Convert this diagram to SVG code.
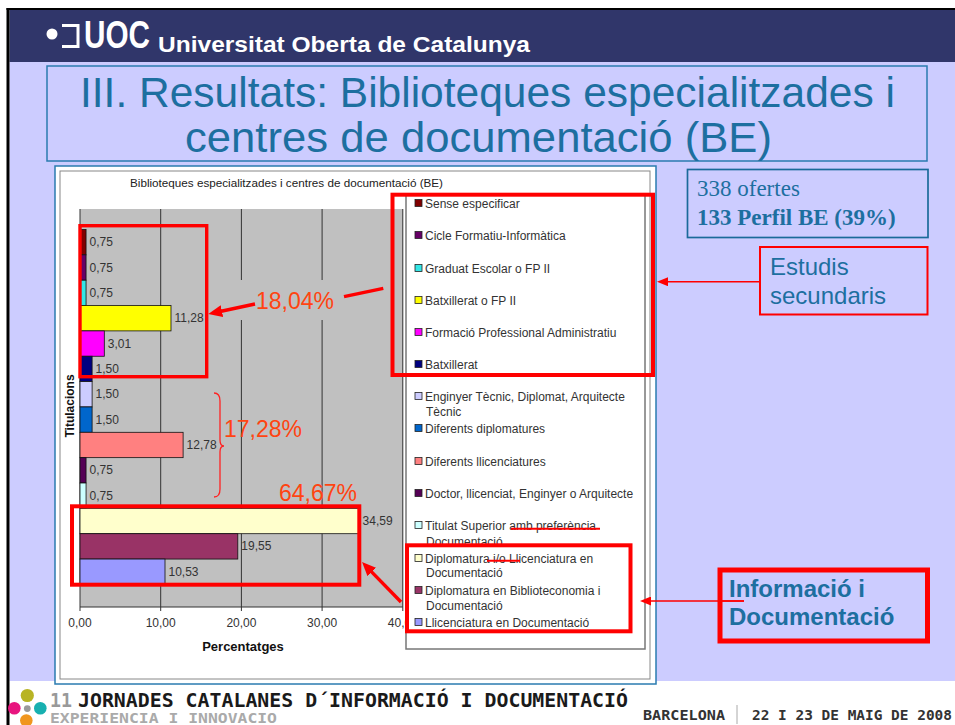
<svg xmlns="http://www.w3.org/2000/svg" width="955" height="725" viewBox="0 0 955 725">
<style>
.sans{font-family:"Liberation Sans",Arial,sans-serif}
.lg{font-family:"Liberation Sans",Arial,sans-serif;font-size:12px;fill:#333}
.dl{font-family:"Liberation Sans",Arial,sans-serif;font-size:12px;fill:#333}
.tk{font-family:"Liberation Sans",Arial,sans-serif;font-size:12px;fill:#333;text-anchor:middle}
.big{font-family:"Liberation Sans",Arial,sans-serif;font-size:23px;fill:#ff4411}
.bar{stroke:#111;stroke-width:0.8}
.mk{stroke:#222;stroke-width:0.8}
.grid{stroke:#333;stroke-width:1}
.rb{fill:none;stroke:#ff0000}
.blue{fill:#1d6fa0}
.foot{font-family:"DejaVu Sans Mono",monospace;font-weight:bold}
</style>
<defs>
<marker id="ah" markerUnits="userSpaceOnUse" markerWidth="16" markerHeight="12" refX="2" refY="6" orient="auto"><path d="M0,0 L14,6 L0,12 z" fill="#ff0000"/></marker>
<marker id="as" markerUnits="userSpaceOnUse" markerWidth="12" markerHeight="9" refX="2" refY="4.5" orient="auto"><path d="M0,0 L11,4.5 L0,9 z" fill="#ff0000"/></marker>
</defs>
<rect x="0" y="0" width="955" height="725" fill="#ffffff"/>
<g id="header">
<rect x="9.5" y="62" width="945.5" height="619" fill="#ccccff"/>
<rect x="9.5" y="9" width="945.5" height="53" fill="#30366a"/>
<rect x="6.5" y="8" width="948.5" height="2" fill="#000"/>
<rect x="6.5" y="8" width="3" height="717" fill="#000"/>
<circle cx="52" cy="34" r="5.5" fill="#fff"/>
<polyline points="62,25.5 78,25.5 78,46.5 62,46.5" fill="none" stroke="#fff" stroke-width="3"/>
<text x="84" y="48" class="sans" font-size="39" font-weight="bold" fill="#fff" textLength="66" lengthAdjust="spacingAndGlyphs">UOC</text>
<text x="158" y="52" class="sans" font-size="22" font-weight="bold" fill="#fff" textLength="372" lengthAdjust="spacingAndGlyphs">Universitat Oberta de Catalunya</text>
</g>
<g id="title">
<rect x="47" y="66" width="880" height="95" fill="none" stroke="#2a7bb0" stroke-width="1.5"/>
<text x="80" y="107" class="sans blue" font-size="42.5" textLength="815" lengthAdjust="spacingAndGlyphs">III. Resultats: Biblioteques especialitzades i</text>
<text x="185" y="152" class="sans blue" font-size="42.5" textLength="587" lengthAdjust="spacingAndGlyphs">centres de documentació (BE)</text>
</g>
<g id="chart">
<rect x="55" y="166" width="601" height="518" fill="#fff" stroke="#2a7bb0" stroke-width="1.5"/>
<rect x="60" y="171" width="590" height="508" fill="#fff" stroke="#888" stroke-width="1"/>
<text x="130" y="187" class="sans" font-size="11" fill="#222" textLength="313" lengthAdjust="spacingAndGlyphs">Biblioteques especialitzades i centres de documentació (BE)</text>
<rect x="80" y="209" width="323" height="398" fill="#c0c0c0"/>
<g class="grid">
<line x1="160.7" y1="209" x2="160.7" y2="607"/>
<line x1="241.4" y1="209" x2="241.4" y2="607"/>
<line x1="322.1" y1="209" x2="322.1" y2="607"/>
<line x1="402.8" y1="209" x2="402.8" y2="607"/>
<line x1="80" y1="209" x2="80" y2="611"/>
<line x1="80" y1="607" x2="402.8" y2="607"/>
<line x1="160.7" y1="607" x2="160.7" y2="611"/>
<line x1="241.4" y1="607" x2="241.4" y2="611"/>
<line x1="322.1" y1="607" x2="322.1" y2="611"/>
<line x1="402.8" y1="607" x2="402.8" y2="611"/>
</g>
<rect x="238" y="280" width="150" height="40" fill="#c0c0c0"/>
<g id="bars">
<rect class="bar" x="80" y="229.5" width="6.05" height="25.35" fill="#800000"/>
<rect class="bar" x="80" y="254.85" width="6.05" height="25.35" fill="#660066"/>
<rect class="bar" x="80" y="280.2" width="6.05" height="25.35" fill="#33e6e6"/>
<rect class="bar" x="80" y="305.55" width="91" height="25.35" fill="#ffff00"/>
<rect class="bar" x="80" y="330.9" width="24.3" height="25.35" fill="#ff00ff"/>
<rect class="bar" x="80" y="356.25" width="12.1" height="25.35" fill="#000080"/>
<rect class="bar" x="80" y="381.6" width="12.1" height="25.35" fill="#ccccff"/>
<rect class="bar" x="80" y="406.95" width="12.1" height="25.35" fill="#0066cc"/>
<rect class="bar" x="80" y="432.3" width="103.1" height="25.35" fill="#ff8080"/>
<rect class="bar" x="80" y="457.65" width="6.05" height="25.35" fill="#550055"/>
<rect class="bar" x="80" y="483" width="6.05" height="25.35" fill="#ccffff"/>
<rect class="bar" x="80" y="508.35" width="279.1" height="25.35" fill="#ffffcc"/>
<rect class="bar" x="80" y="533.7" width="157.8" height="25.35" fill="#993366"/>
<rect class="bar" x="80" y="559.05" width="85" height="25.35" fill="#9999ff"/>
</g>
<g id="datalabels">
<text class="dl" x="89.5" y="246.2">0,75</text>
<text class="dl" x="89.5" y="271.5">0,75</text>
<text class="dl" x="89.5" y="296.9">0,75</text>
<text class="dl" x="174.5" y="322.2">11,28</text>
<text class="dl" x="107.8" y="347.6">3,01</text>
<text class="dl" x="95.6" y="373">1,50</text>
<text class="dl" x="95.6" y="398.3">1,50</text>
<text class="dl" x="95.6" y="423.6">1,50</text>
<text class="dl" x="186.6" y="449">12,78</text>
<text class="dl" x="89.5" y="474.3">0,75</text>
<text class="dl" x="89.5" y="499.7">0,75</text>
<text class="dl" x="362.6" y="525">34,59</text>
<text class="dl" x="241.3" y="550.4">19,55</text>
<text class="dl" x="168.5" y="575.7">10,53</text>
</g>
<text class="tk" x="80" y="627">0,00</text>
<text class="tk" x="160.7" y="627">10,00</text>
<text class="tk" x="241.4" y="627">20,00</text>
<text class="tk" x="322.1" y="627">30,00</text>
<text class="tk" x="402.8" y="627">40,00</text>
<text x="243" y="651" class="sans" font-size="13" font-weight="bold" fill="#111" text-anchor="middle">Percentatges</text>
<text x="0" y="0" class="sans" font-size="12" font-weight="bold" fill="#111" text-anchor="middle" transform="translate(74,406) rotate(-90)">Titulacions</text>
</g>
<g id="legend">
<rect x="406" y="195" width="239" height="454" fill="#fff" stroke="#777" stroke-width="1.5"/>
<rect class="mk" x="415" y="199.5" width="7" height="7" fill="#800000"/>
<text class="lg" x="425" y="208">Sense especificar</text>
<rect class="mk" x="415" y="231.5" width="7" height="7" fill="#660066"/>
<text class="lg" x="425" y="240">Cicle Formatiu-Informàtica</text>
<rect class="mk" x="415" y="264.5" width="7" height="7" fill="#33e6e6"/>
<text class="lg" x="425" y="273">Graduat Escolar o FP II</text>
<rect class="mk" x="415" y="296.5" width="7" height="7" fill="#ffff00"/>
<text class="lg" x="425" y="305">Batxillerat o FP II</text>
<rect class="mk" x="415" y="328.5" width="7" height="7" fill="#ff00ff"/>
<text class="lg" x="425" y="337">Formació Professional Administratiu</text>
<rect class="mk" x="415" y="360.5" width="7" height="7" fill="#000080"/>
<text class="lg" x="425" y="369">Batxillerat</text>
<rect class="mk" x="415" y="392.5" width="7" height="7" fill="#ccccff"/>
<text class="lg" x="425" y="401">Enginyer Tècnic, Diplomat, Arquitecte</text>
<text class="lg" x="426" y="416">Tècnic</text>
<rect class="mk" x="415" y="424.5" width="7" height="7" fill="#0066cc"/>
<text class="lg" x="425" y="433">Diferents diplomatures</text>
<rect class="mk" x="415" y="457.5" width="7" height="7" fill="#ff8080"/>
<text class="lg" x="425" y="466">Diferents llicenciatures</text>
<rect class="mk" x="415" y="489.5" width="7" height="7" fill="#550055"/>
<text class="lg" x="425" y="498">Doctor, llicenciat, Enginyer o Arquitecte</text>
<rect class="mk" x="415" y="521.5" width="7" height="7" fill="#ccffff"/>
<text class="lg" x="425" y="530">Titulat Superior amb preferència</text>
<text class="lg" x="426" y="546">Documentació</text>
<rect class="mk" x="415" y="554.5" width="7" height="7" fill="#ffffcc"/>
<text class="lg" x="425" y="563">Diplomatura i/o Llicenciatura en</text>
<text class="lg" x="426" y="577">Documentació</text>
<rect class="mk" x="415" y="586.5" width="7" height="7" fill="#993366"/>
<text class="lg" x="425" y="595">Diplomatura en Biblioteconomia i</text>
<text class="lg" x="426" y="610">Documentació</text>
<rect class="mk" x="415" y="618.5" width="7" height="7" fill="#9999ff"/>
<text class="lg" x="425" y="627">Llicenciatura en Documentació</text>
<line x1="511" y1="528.7" x2="600" y2="528.7" stroke="#ff0000" stroke-width="2"/>
<line x1="487" y1="560.7" x2="520" y2="560.7" stroke="#ff0000" stroke-width="2"/>
</g>
<g id="highlights">
<rect class="rb" x="80" y="225.7" width="126.7" height="151" stroke-width="3.4"/>
<rect class="rb" x="392.5" y="194.7" width="260.5" height="180.3" stroke-width="4"/>
<rect class="rb" x="72" y="506.3" width="287.3" height="78.4" stroke-width="4"/>
<rect class="rb" x="407" y="545.3" width="223.5" height="86" stroke-width="4"/>
<path d="M214 393 Q220 393 220 401 L220 440 Q220 446 224 446 Q220 446 220 452 L220 489 Q220 497 214 497" fill="none" stroke="#ff2222" stroke-width="1.3"/>
<text class="big" x="256" y="309">18,04%</text>
<text class="big" x="224" y="437">17,28%</text>
<text class="big" x="279" y="501">64,67%</text>
</g>
<g id="connectors">
<line x1="383.3" y1="288.3" x2="344" y2="296.7" stroke="#ff0000" stroke-width="3.4"/>
<line x1="255" y1="304" x2="220" y2="311.5" stroke="#ff0000" stroke-width="3.4" marker-end="url(#ah)"/>
<line x1="401" y1="602" x2="370.4" y2="570.6" stroke="#ff0000" stroke-width="3.4" marker-end="url(#ah)"/>
<line x1="760" y1="281.7" x2="666" y2="281.7" stroke="#ff0000" stroke-width="1.5" marker-end="url(#as)"/>
<line x1="744" y1="601" x2="649" y2="601" stroke="#ff0000" stroke-width="1.5" marker-end="url(#as)"/>
</g>
<g id="offers">
<rect x="687.5" y="169.5" width="240.5" height="68" fill="none" stroke="#1a6a9a" stroke-width="1.7"/>
<text x="697" y="196" font-family="Liberation Serif,'Times New Roman',serif" font-size="23" class="blue">338 ofertes</text>
<text x="697" y="225" font-family="Liberation Serif,'Times New Roman',serif" font-size="23" font-weight="bold" class="blue">133 Perfil BE (39%)</text>
</g>
<g id="estudis">
<rect x="760" y="247" width="167.5" height="67.5" fill="#ccccff" stroke="#ff0000" stroke-width="2"/>
<text x="770" y="275" class="sans blue" font-size="24">Estudis</text>
<text x="770" y="304" class="sans blue" font-size="24">secundaris</text>
</g>
<g id="infodoc">
<rect x="720" y="570" width="207.5" height="71" fill="none" stroke="#ff0000" stroke-width="5"/>
<text x="729" y="597" class="sans blue" font-size="24" font-weight="bold">Informació i</text>
<text x="729" y="625" class="sans blue" font-size="24" font-weight="bold">Documentació</text>
<line x1="720" y1="601" x2="744" y2="601" stroke="#ff0000" stroke-width="1.5"/>
</g>
<g id="footer">
<circle cx="27.3" cy="695.5" r="6.6" fill="#b8b424"/>
<circle cx="14.3" cy="708.3" r="6.3" fill="#e8157f"/>
<circle cx="27.3" cy="708.6" r="3.4" fill="#9a9a9a"/>
<circle cx="40.3" cy="708.3" r="6.3" fill="#17b0b0"/>
<circle cx="26.3" cy="720.5" r="6.3" fill="#f0961e"/>
<text x="50" y="707" class="foot" font-size="19" fill="#999" textLength="22" lengthAdjust="spacingAndGlyphs">11</text>
<text x="78" y="707" class="foot" font-size="19" fill="#1a1a1a" textLength="550" lengthAdjust="spacingAndGlyphs">JORNADES CATALANES D´INFORMACIÓ I DOCUMENTACIÓ</text>
<text x="50" y="723" class="foot" font-size="14" fill="#aaa" font-weight="normal" textLength="227" lengthAdjust="spacingAndGlyphs">EXPERIENCIA I INNOVACIO</text>
<text x="643" y="720" class="foot" font-size="14" fill="#333" textLength="82" lengthAdjust="spacingAndGlyphs">BARCELONA</text>
<line x1="737" y1="705" x2="737" y2="724" stroke="#aaa" stroke-width="1"/>
<text x="752" y="720" class="foot" font-size="14" fill="#333" textLength="200" lengthAdjust="spacingAndGlyphs">22 I 23 DE MAIG DE 2008</text>
</g>
</svg>
